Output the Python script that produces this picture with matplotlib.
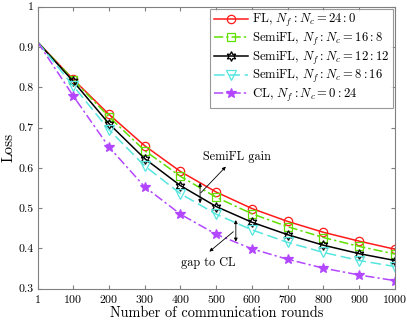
import matplotlib
matplotlib.use("Agg")
import matplotlib.pyplot as plt

plt.rcParams['font.family'] = 'cmr10'
plt.rcParams['mathtext.fontset'] = 'cm'
plt.rcParams['axes.formatter.use_mathtext'] = True

rounds = [1, 100, 200, 300, 400, 500, 600, 700, 800, 900, 1000]
fl = [0.912, 0.820, 0.733, 0.655, 0.591, 0.540, 0.499, 0.467, 0.440, 0.418, 0.398]
semi_16_8 = [0.912, 0.819, 0.727, 0.643, 0.579, 0.527, 0.486, 0.454, 0.427, 0.405, 0.386]
semi_12_12 = [0.912, 0.815, 0.710, 0.623, 0.556, 0.504, 0.465, 0.434, 0.408, 0.387, 0.370]
semi_8_16 = [0.912, 0.804, 0.695, 0.605, 0.536, 0.485, 0.446, 0.415, 0.390, 0.370, 0.355]
cl = [0.912, 0.779, 0.652, 0.553, 0.485, 0.435, 0.399, 0.373, 0.351, 0.334, 0.320]

labels = [r'FL, $N_f:N_c=24:0$', r'SemiFL, $N_f:N_c=16:8$', r'SemiFL, $N_f:N_c=12:12$',
          r'SemiFL, $N_f:N_c=8:16$', r'CL, $N_f:N_c=0:24$']
xticks = [1, 100, 200, 300, 400, 500, 600, 700, 800, 900, 1000]
yticks = [0.3, 0.4, 0.5, 0.6, 0.7, 0.8, 0.9, 1.0]
yticklabels = ['0.3', '0.4', '0.5', '0.6', '0.7', '0.8', '0.9', '1']

fig = plt.figure(figsize=(4.07, 3.21), dpi=100)
ax = fig.add_axes([0.0926, 0.1006, 0.8779, 0.8785])

styles = [
    dict(color='#ff1a1a', ls='-', marker='o', mfc='none', ms=6),
    dict(color='#5fe000', ls=(0, (6, 2, 1.5, 2)), marker='s', mfc='none', ms=5.5),
    dict(color='black', ls='-', marker=(6, 1, 0), mfc='none', ms=7),
    dict(color='#55e6e0', ls=(0, (7, 3)), marker='v', mfc='none', ms=6.5),
    dict(color='#b247ff', ls=(0, (6, 2, 1.5, 2)), marker='*', mfc='#b247ff', ms=7.5),
]
series = [fl, semi_16_8, semi_12_12, semi_8_16, cl]
for ys, st, lab in zip(series, styles, labels):
    ax.plot(rounds, ys, lw=1.1, markevery=list(range(1, len(rounds))),
            mew=0.9, label=lab, **st)

ax.set_xlim(1, 1000)
ax.set_ylim(0.3, 1.0)
ax.set_xticks(xticks)
ax.set_yticks(yticks)
ax.set_yticklabels(yticklabels)
ax.tick_params(direction='in', top=True, right=True, labelsize=8.5, length=3,
               color='#808080', pad=3)
for s in ax.spines.values():
    s.set_color('#808080')
    s.set_linewidth(0.8)
ax.set_xlabel('Number of communication rounds', fontsize=10.3, labelpad=1)
ax.set_ylabel('Loss', fontsize=11, labelpad=2)

leg = ax.legend(loc='upper right', fontsize=9.1, frameon=True, fancybox=False,
                edgecolor='#808080', borderaxespad=0.15, handlelength=2.7,
                handletextpad=0.3, labelspacing=0.12, borderpad=0.3)
leg.get_frame().set_linewidth(0.8)

ap2 = dict(arrowstyle='<|-|>', color='black', lw=0.6, mutation_scale=5,
           shrinkA=0, shrinkB=0)
ap1 = dict(arrowstyle='-|>', color='black', lw=0.6, mutation_scale=5,
           shrinkA=0, shrinkB=0)
ax.annotate('', xy=(455, 0.563), xytext=(455, 0.512), arrowprops=ap2)
ax.annotate('', xy=(527, 0.603), xytext=(457, 0.538), arrowprops=ap1)
ax.text(559, 0.628, 'SemiFL gain', fontsize=8.8, ha='center', va='center')
ax.annotate('', xy=(555, 0.4705), xytext=(555, 0.4167), arrowprops=ap2)
ax.annotate('', xy=(481, 0.392), xytext=(548, 0.4415), arrowprops=ap1)
ax.text(479, 0.363, 'gap to CL', fontsize=8.8, ha='center', va='center')

fig.savefig('out.png', dpi=100)
